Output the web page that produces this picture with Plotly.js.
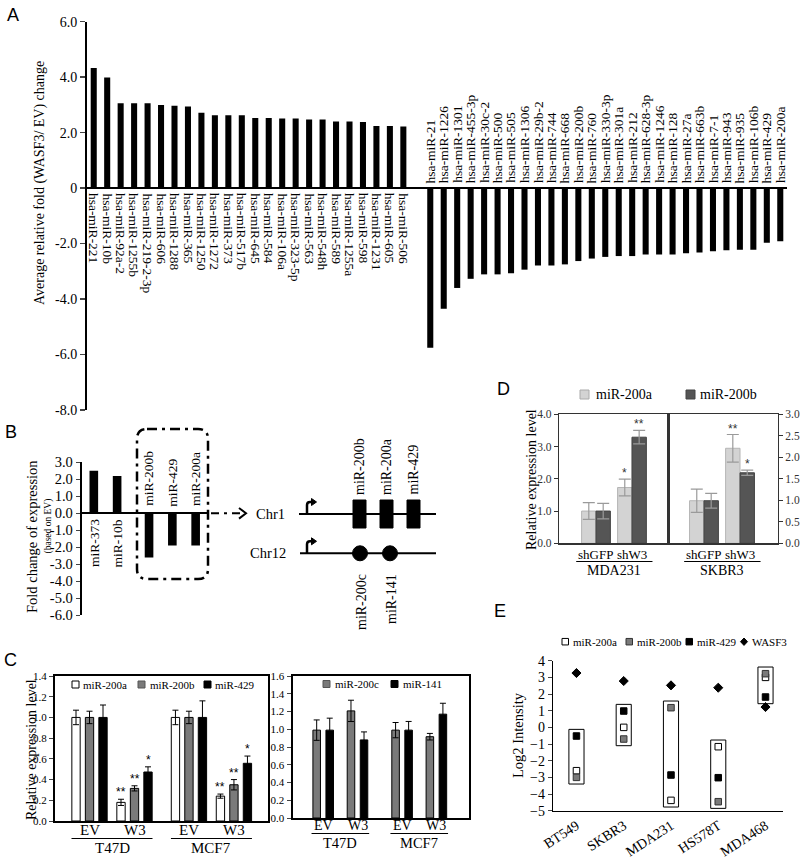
<!DOCTYPE html>
<html><head><meta charset="utf-8">
<script src="https://cdn.plot.ly/plotly-3.0.1.min.js"></script>
<style>body{margin:0;background:#fff}#chart{width:800px;height:860px}</style>
</head><body><div id="chart"></div>
<script>
// ---------------- DATA ----------------
// Panel A
const aUpLabels = ['hsa-miR-221','hsa-miR-10b','hsa-miR-92a-2','hsa-miR-1255b','hsa-miR-219-2-3p','hsa-miR-606','hsa-miR-1288','hsa-miR-365','hsa-miR-1250','hsa-miR-1272','hsa-miR-373','hsa-miR-517b','hsa-miR-645','hsa-miR-584','hsa-miR-106a','hsa-miR-323-5p','hsa-miR-563','hsa-miR-548h','hsa-miR-589','hsa-miR-1255a','hsa-miR-598','hsa-miR-1231','hsa-miR-605','hsa-miR-506'];
const aUpValues = [4.33,3.99,3.06,3.06,3.06,3.0,2.97,2.94,2.72,2.63,2.63,2.63,2.53,2.53,2.51,2.51,2.47,2.47,2.4,2.4,2.38,2.24,2.24,2.22];
const aDownLabels = ['hsa-miR-21','hsa-miR-1226','hsa-miR-1301','hsa-miR-455-3p','hsa-miR-30c-2','hsa-miR-500','hsa-miR-505','hsa-miR-1306','hsa-miR-29b-2','hsa-miR-744','hsa-miR-668','hsa-miR-200b','hsa-miR-760','hsa-miR-330-3p','hsa-miR-301a','hsa-miR-212','hsa-miR-628-3p','hsa-miR-1246','hsa-miR-128','hsa-miR-27a','hsa-miR-663b','hsa-miR-7-1','hsa-miR-943','hsa-miR-935','hsa-miR-106b','hsa-miR-429','hsa-miR-200a'];
const aDownValues = [-5.76,-4.35,-3.6,-3.27,-3.11,-3.11,-3.07,-2.94,-2.79,-2.79,-2.75,-2.63,-2.54,-2.48,-2.45,-2.45,-2.39,-2.39,-2.39,-2.35,-2.32,-2.28,-2.24,-2.22,-2.22,-1.97,-1.92];
const aTickVals = [-8,-6,-4,-2,0,2,4,6];
const aTickText = ['-8.0','-6.0','-4.0','-2.0','0','2.0','4.0','6.0'];

// Panel B
const bLabels = ['miR-373','miR-10b','miR-200b','miR-429','miR-200a'];
const bValues = [2.5,2.2,-2.6,-1.9,-1.9];
const bTickVals = [3,2,1,0,-1,-2,-3,-4,-5,-6];
const bCluster1 = ['miR-200b','miR-200a','miR-429'];
const bCluster12 = ['miR-200c','miR-141'];

// Panel C
const cGroups = ['EV','W3','EV','W3'];
const cCells = ['T47D','MCF7'];
const c200a = [1.0,0.18,1.0,0.24];
const c200aErr = [0.07,0.03,0.07,0.02];
const c200aSig = ['','**','','**'];
const c200b = [1.0,0.315,1.0,0.35];
const c200bErr = [0.06,0.025,0.06,0.05];
const c200bSig = ['','**','','**'];
const c429 = [1.0,0.473,1.0,0.557];
const c429Err = [0.12,0.05,0.16,0.07];
const c429Sig = ['','*','','*'];
const c200c = [0.99,1.207,0.99,0.916];
const c200cErr = [0.115,0.12,0.086,0.037];
const c141 = [0.99,0.88,0.99,1.17];
const c141Err = [0.135,0.09,0.098,0.123];

// Panel D
const dGroups = ['shGFP','shW3'];
const dCells = ['MDA231','SKBR3'];
const dMda200a = [1.0,1.73], dMda200aErr = [0.26,0.26], dMda200aSig = ['','*'];
const dMda200b = [1.0,3.29], dMda200bErr = [0.24,0.21], dMda200bSig = ['','**'];
const dSk200a = [0.99,2.21], dSk200aErr = [0.27,0.32], dSk200aSig = ['','**'];
const dSk200b = [0.99,1.64], dSk200bErr = [0.17,0.06], dSk200bSig = ['','*'];

// Panel E
const eCells = ['BT549','SKBR3','MDA231','HS578T','MDA468'];
const e200a = [-2.6,0.0,-4.38,-1.16,3.0];
const e200b = [-3.0,-0.7,1.18,-4.46,3.22];
const e429 = [-0.52,0.98,-2.86,-3.02,1.82];
const eWASF3 = [3.26,2.78,2.52,2.38,1.22];
const eTickVals = [4,3,2,1,0,-1,-2,-3,-4,-5];

// ---------------- HELPERS ----------------
const SERIF = 'Liberation Serif';
const SANS = 'Liberation Sans';
const W = 800, H = 860;
const px = v => v / W, py = v => 1 - v / H;
const traces = [], annotations = [], shapes = [];
const F = (s, c = '#000', fam = SERIF) => ({family: fam, size: s, color: c});
const txt = (x, y, text, o = {}) => annotations.push(Object.assign({
  xref: 'paper', yref: 'paper', x: px(x), y: py(y), text, showarrow: false,
  xanchor: 'center', yanchor: 'middle', font: F(14)
}, o));
const pline = (x0, y0, x1, y1, o = {}) => shapes.push(Object.assign({
  type: 'line', xref: 'paper', yref: 'paper', x0: px(x0), y0: py(y0), x1: px(x1), y1: py(y1),
  line: {color: '#000', width: 1.5}
}, o));
const prect = (x0, y0, x1, y1, fill, lineColor, lw = 1) => shapes.push({
  type: 'rect', xref: 'paper', yref: 'paper', x0: px(x0), y0: py(y0), x1: px(x1), y1: py(y1),
  fillcolor: fill, line: {color: lineColor, width: lw}
});
const baseAxis = {showgrid: false, zeroline: false, fixedrange: true};
const star = (xref, yref, x, y, text, shift, color) => annotations.push({xref, yref, x, y, text, showarrow: false,
  xanchor: 'center', yanchor: 'bottom', yshift: shift, font: F(12, color, SANS)});

// ---------------- PANEL A ----------------
const aX = aUpLabels.map((_, i) => i).concat(aDownLabels.map((_, i) => aUpLabels.length + 1 + i));
traces.push({type: 'bar', x: aX, y: aUpValues.concat(aDownValues), width: 0.45,
  marker: {color: '#000', line: {width: 0}}, xaxis: 'x', yaxis: 'y', showlegend: false, hoverinfo: 'skip'});
aUpLabels.forEach((t, i) => annotations.push({xref: 'x', yref: 'y', x: i, y: 0, text: t, textangle: 90,
  xanchor: 'center', yanchor: 'top', yshift: -3, showarrow: false, font: F(13.5)}));
aDownLabels.forEach((t, i) => annotations.push({xref: 'x', yref: 'y', x: aUpLabels.length + 1 + i, y: 0, text: t, textangle: -90,
  xanchor: 'center', yanchor: 'bottom', yshift: 3, showarrow: false, font: F(13.5)}));
txt(40, 183, 'Average relative fold (WASF3/ EV) change', {textangle: -90, font: F(14)});
txt(13, 15, 'A', {font: F(18, '#000', SANS)});

// ---------------- PANEL B ----------------
const bX = bLabels.map((_, i) => i + (i >= 2 ? 0.37 : 0));
traces.push({type: 'bar', x: bX, y: bValues, width: 0.37, marker: {color: '#000'},
  xaxis: 'x2', yaxis: 'y2', showlegend: false, hoverinfo: 'skip'});
bLabels.forEach((t, i) => annotations.push({xref: 'x2', yref: 'y2', x: bX[i], y: 0, text: t, textangle: -90,
  xanchor: 'center', yanchor: bValues[i] >= 0 ? 'top' : 'bottom', yshift: bValues[i] >= 0 ? -4 : 5, showarrow: false,
  font: F(13.5)}));
txt(32, 537, 'Fold change of expression', {textangle: -90, font: F(14.5)});
txt(47.5, 526, '(based on EV)', {textangle: -90, font: F(9.5)});
txt(11, 432, 'B', {font: F(18, '#000', SANS)});
(function () {
  const l = 137, r = 208, t = 429, b = 579, rad = 10;
  const P = (x, y) => px(x) + ',' + py(y);
  const path = 'M' + P(l + rad, t) + ' L' + P(r - rad, t) + ' Q' + P(r, t) + ' ' + P(r, t + rad) +
    ' L' + P(r, b - rad) + ' Q' + P(r, b) + ' ' + P(r - rad, b) + ' L' + P(l + rad, b) +
    ' Q' + P(l, b) + ' ' + P(l, b - rad) + ' L' + P(l, t + rad) + ' Q' + P(l, t) + ' ' + P(l + rad, t) + ' Z';
  shapes.push({type: 'path', xref: 'paper', yref: 'paper', path, line: {color: '#000', width: 2.5, dash: '10px,5px,3px,5px'}});
  pline(211, 513.3, 244, 513.3, {line: {color: '#000', width: 2, dash: '8px,5px,3px,5px'}});
  shapes.push({type: 'path', xref: 'paper', yref: 'paper', path: 'M' + P(239, 508) + ' L' + P(246, 513.3) + ' L' + P(239, 518.6),
    line: {color: '#000', width: 2}});
  txt(270, 514, 'Chr1', {font: F(14.5)});
  txt(268, 553, 'Chr12', {font: F(14.5)});
  pline(299, 514, 436, 514, {line: {color: '#000', width: 2}});
  pline(300, 553.3, 436, 553.3, {line: {color: '#000', width: 2}});
  [514, 553.3].forEach(yb => {
    shapes.push({type: 'path', xref: 'paper', yref: 'paper',
      path: 'M' + P(307, yb) + ' L' + P(307, yb - 9) + ' Q' + P(307, yb - 12) + ' ' + P(310, yb - 12) + ' L' + P(312, yb - 12),
      line: {color: '#000', width: 2.5}});
    shapes.push({type: 'path', xref: 'paper', yref: 'paper',
      path: 'M' + P(311.5, yb - 15.5) + ' L' + P(316.5, yb - 12) + ' L' + P(311.5, yb - 8.5) + ' Z',
      fillcolor: '#000', line: {color: '#000', width: 1}});
  });
  const rectX = [359.5, 386.5, 413.5];
  bCluster1.forEach((t, i) => {
    prect(rectX[i] - 6.5, 500, rectX[i] + 6.5, 528, '#000', '#000', 1);
    txt(rectX[i], 497, t, {textangle: -90, yanchor: 'bottom', font: F(14)});
  });
  const circX = [360, 390];
  bCluster12.forEach((t, i) => {
    shapes.push({type: 'circle', xref: 'paper', yref: 'paper', x0: px(circX[i] - 7.5), x1: px(circX[i] + 7.5),
      y0: py(553.3 + 7.5), y1: py(553.3 - 7.5), fillcolor: '#000', line: {color: '#000', width: 1}});
    txt(circX[i] + 1, 572, t, {textangle: -90, yanchor: 'top', font: F(14)});
  });
})();

// ---------------- PANEL C ----------------
const cLX = cGroups.map((_, i) => i + (i >= 2 ? 0.21 : 0));
const cLW = 0.185;
[[c200a, c200aErr, c200aSig, -0.3, '#ffffff'], [c200b, c200bErr, c200bSig, 0, '#7a7a7a'], [c429, c429Err, c429Sig, 0.3, '#000000']]
  .forEach(([v, e, s, off, col]) => {
    traces.push({type: 'bar', x: cLX, y: v, width: cLW, offset: off - cLW / 2, xaxis: 'x3', yaxis: 'y3',
      marker: {color: col, line: {color: '#000', width: 1}}, showlegend: false, hoverinfo: 'skip',
      error_y: {type: 'data', array: e, visible: true, color: '#000', thickness: 1, width: 3}});
    s.forEach((st, i) => { if (st) star('x3', 'y3', cLX[i] + off, v[i] + e[i], st, -2, '#000000'); });
  });
const cRX = cGroups.map((_, i) => i + (i >= 2 ? 0.3 : 0));
const cRW = 0.22;
[[c200c, c200cErr, -0.19, '#7a7a7a'], [c141, c141Err, 0.19, '#000000']].forEach(([v, e, off, col]) => {
  traces.push({type: 'bar', x: cRX, y: v, width: cRW, offset: off - cRW / 2, xaxis: 'x4', yaxis: 'y4',
    marker: {color: col, line: {color: '#000', width: 1}}, showlegend: false, hoverinfo: 'skip',
    error_y: {type: 'data', array: e, visible: true, color: '#000', thickness: 1, width: 3}});
});
cGroups.forEach((g, i) => {
  annotations.push({xref: 'x3', yref: 'paper', x: cLX[i], y: py(830), text: g, showarrow: false, yanchor: 'middle', font: F(15)});
  annotations.push({xref: 'x4', yref: 'paper', x: cRX[i], y: py(825.5), text: g, showarrow: false, yanchor: 'middle', font: F(14)});
});
cCells.forEach((c, k) => {
  const a = cLX[2 * k], b = cLX[2 * k + 1];
  shapes.push({type: 'line', xref: 'x3', yref: 'paper', x0: a - 0.4, x1: b + 0.4, y0: py(838.5), y1: py(838.5), line: {color: '#000', width: 1}});
  annotations.push({xref: 'x3', yref: 'paper', x: (a + b) / 2, y: py(848), text: c, showarrow: false, yanchor: 'middle', font: F(15)});
  const a2 = cRX[2 * k], b2 = cRX[2 * k + 1];
  shapes.push({type: 'line', xref: 'x4', yref: 'paper', x0: a2 - 0.34, x1: b2 + 0.34, y0: py(833.5), y1: py(833.5), line: {color: '#000', width: 1}});
  annotations.push({xref: 'x4', yref: 'paper', x: (a2 + b2) / 2, y: py(843), text: c, showarrow: false, yanchor: 'middle', font: F(14.5)});
});
function legItem(x, yc, size, fill, lineCol, label, fs, gap) {
  prect(x, yc - size / 2, x + size, yc + size / 2, fill, lineCol, 1);
  txt(x + size + gap, yc, label, {xanchor: 'left', font: F(fs)});
}
legItem(72, 684.5, 7, '#ffffff', '#000', 'miR-200a', 11, 2);
legItem(138, 684.5, 7, '#7a7a7a', '#555', 'miR-200b', 11, 2.5);
legItem(204, 684.5, 7, '#000000', '#000', 'miR-429', 11, 2.5);
legItem(323, 684, 7, '#7a7a7a', '#555', 'miR-200c', 11, 2.5);
legItem(391, 684, 7, '#000000', '#000', 'miR-141', 11, 2.5);
txt(10, 660, 'C', {font: F(18, '#000', SANS)});
txt(31, 750, 'Relative expression level', {textangle: -90, font: F(14)});

// ---------------- PANEL D ----------------
const dX = dGroups.map((_, i) => i);
[[dMda200a, dMda200aErr, dMda200aSig, 'x5', 'y5', -0.4, '#d3d3d3', '#b5b5b5'],
 [dMda200b, dMda200bErr, dMda200bSig, 'x5', 'y5', 0, '#555555', '#444444'],
 [dSk200a, dSk200aErr, dSk200aSig, 'x6', 'y6', -0.4, '#d3d3d3', '#b5b5b5'],
 [dSk200b, dSk200bErr, dSk200bSig, 'x6', 'y6', 0, '#555555', '#444444']].forEach(([v, e, s, xa, ya, off, col, lc]) => {
  traces.push({type: 'bar', x: dX, y: v, width: 0.4, offset: off, xaxis: xa, yaxis: ya,
    marker: {color: col, line: {color: lc, width: 1}}, showlegend: false, hoverinfo: 'skip',
    error_y: {type: 'data', array: e, visible: true, color: '#9a9a9a', thickness: 1.2, width: 6}});
  s.forEach((st, i) => { if (st) star(xa, ya, dX[i] + off + 0.2, v[i] + e[i], st, -3, '#333333'); });
});
dCells.forEach((c, k) => {
  const xa = k === 0 ? 'x5' : 'x6';
  dGroups.forEach((g, i) => annotations.push({xref: xa, yref: 'paper', x: dX[i], y: py(554), text: g, showarrow: false,
    yanchor: 'middle', font: F(13)}));
  shapes.push({type: 'line', xref: xa, yref: 'paper', x0: -0.55, x1: 1.57, y0: py(561.5), y1: py(561.5), line: {color: '#000', width: 1}});
  annotations.push({xref: xa, yref: 'paper', x: 0.5, y: py(570), text: c, showarrow: false, yanchor: 'middle', font: F(14)});
});
legItem(580, 394.5, 9, '#d3d3d3', '#aaaaaa', 'miR-200a', 14, 5);
legItem(686, 394.5, 9, '#555555', '#444444', 'miR-200b', 14, 3);
txt(531, 480, 'Relative expression level', {textangle: -90, font: F(14)});
txt(503, 389, 'D', {font: F(18, '#000', SANS)});

// ---------------- PANEL E ----------------
const eX = eCells.map((_, i) => i);
eCells.forEach((c, i) => {
  const vals = [e200a[i], e200b[i], e429[i]];
  shapes.push({type: 'rect', xref: 'x7', yref: 'y7', x0: i - 0.16, x1: i + 0.16,
    y0: Math.max(Math.min(...vals) - 0.4, -4.88), y1: Math.max(...vals) + 0.4,
    line: {color: '#000', width: 1}, fillcolor: 'rgba(0,0,0,0)', layer: 'below'});
});
[[e200a, 'square', '#ffffff', '#000'], [e200b, 'square', '#7a7a7a', '#333'], [e429, 'square', '#000000', '#000'],
 [eWASF3, 'diamond', '#000000', '#000']].forEach(([v, sym, col, lc]) => {
  traces.push({type: 'scatter', mode: 'markers', x: eX, y: v, xaxis: 'x7', yaxis: 'y7', showlegend: false, hoverinfo: 'skip',
    marker: {symbol: sym, size: sym === 'diamond' ? 7 : 6.5, color: col, line: {color: lc, width: 1}}});
});
legItem(562, 641.7, 6.5, '#ffffff', '#000', 'miR-200a', 11, 2);
legItem(626, 641.7, 6.5, '#7a7a7a', '#333', 'miR-200b', 11, 2);
legItem(686, 641.7, 6.5, '#000000', '#000', 'miR-429', 11, 2);
shapes.push({type: 'path', xref: 'paper', yref: 'paper', fillcolor: '#000', line: {color: '#000', width: 1},
  path: 'M' + px(744) + ',' + py(638) + ' L' + px(747.5) + ',' + py(641.7) + ' L' + px(744) + ',' + py(645.4) + ' L' + px(740.5) + ',' + py(641.7) + ' Z'});
txt(750, 641.7, 'WASF3', {xanchor: 'left', font: F(11)});
txt(518, 735, 'Log2 Intensity', {textangle: -90, font: F(14.5)});
txt(500, 611, 'E', {font: F(18, '#000', SANS)});

// ---------------- LAYOUT ----------------
const layout = {
  width: W, height: H, autosize: false, margin: {l: 0, r: 0, t: 0, b: 0},
  font: {family: SERIF, color: '#000'},
  paper_bgcolor: '#fff', plot_bgcolor: 'rgba(0,0,0,0)', showlegend: false, barmode: 'overlay',
  annotations, shapes,
  xaxis: Object.assign({}, baseAxis, {domain: [px(87), px(787)], range: [-0.5, 51.5], showticklabels: false, ticks: '', anchor: 'y'}),
  yaxis: Object.assign({}, baseAxis, {domain: [py(410), py(21.7)], range: [-8, 6], anchor: 'x', tickvals: aTickVals, ticktext: aTickText,
    ticks: 'outside', ticklen: 5, tickwidth: 1.5, showline: true, linewidth: 2, linecolor: '#000', zeroline: true,
    zerolinewidth: 2, zerolinecolor: '#000', tickfont: F(14)}),
  xaxis2: Object.assign({}, baseAxis, {domain: [px(81.7), px(208)], range: [-0.52, 4.9], showticklabels: false, ticks: '', anchor: 'y2'}),
  yaxis2: Object.assign({}, baseAxis, {domain: [py(615.3), py(462.3)], range: [-6, 3], anchor: 'x2', tickvals: bTickVals,
    ticktext: bTickVals.map(v => v.toFixed(1)), ticks: 'outside', ticklen: 4, tickwidth: 1.5, showline: true, linewidth: 2,
    linecolor: '#000', zeroline: true, zerolinewidth: 2, zerolinecolor: '#000', tickfont: F(14.5)}),
  xaxis3: Object.assign({}, baseAxis, {domain: [px(55), px(268)], range: [-0.767, 3.967], anchor: 'y3', showticklabels: false,
    ticks: '', showline: true, mirror: true, linewidth: 2, linecolor: '#000'}),
  yaxis3: Object.assign({}, baseAxis, {domain: [py(821), py(676)], range: [0, 1.4], anchor: 'x3', dtick: 0.2, tickformat: '.1f',
    ticks: 'outside', ticklen: 4, showline: true, mirror: true, linewidth: 2, linecolor: '#000', tickfont: F(11)}),
  xaxis4: Object.assign({}, baseAxis, {domain: [px(292.5), px(468.5)], range: [-0.895, 4.236], anchor: 'y4', showticklabels: false,
    ticks: '', showline: true, mirror: true, linewidth: 2, linecolor: '#000'}),
  yaxis4: Object.assign({}, baseAxis, {domain: [py(818), py(676)], range: [0, 1.6], anchor: 'x4', dtick: 0.2, tickformat: '.1f',
    ticks: 'outside', ticklen: 4, showline: true, mirror: true, linewidth: 2, linecolor: '#000', tickfont: F(11)}),
  xaxis5: Object.assign({}, baseAxis, {domain: [px(559.3), px(668.3)], range: [-1.02, 2.01], anchor: 'y5', showticklabels: false,
    ticks: '', showline: true, mirror: true, linewidth: 1.5, linecolor: '#333'}),
  yaxis5: Object.assign({}, baseAxis, {domain: [py(543.3), py(414.3)], range: [0, 4], anchor: 'x5', dtick: 1, tickformat: '.1f',
    ticks: 'outside', ticklen: 4, tickcolor: '#333', showline: true, mirror: true, linewidth: 1.5, linecolor: '#333', tickfont: F(11.5, '#333')}),
  xaxis6: Object.assign({}, baseAxis, {domain: [px(668.3), px(777.5)], range: [-0.99, 2.04], anchor: 'y6', showticklabels: false,
    ticks: '', showline: true, mirror: true, linewidth: 1.5, linecolor: '#333'}),
  yaxis6: Object.assign({}, baseAxis, {domain: [py(543.3), py(414.3)], range: [0, 3], anchor: 'x6', side: 'right', dtick: 0.5, tickformat: '.1f',
    ticks: 'outside', ticklen: 4, tickcolor: '#333', showline: true, mirror: true, linewidth: 1.5, linecolor: '#333', tickfont: F(11.5, '#333')}),
  xaxis7: Object.assign({}, baseAxis, {domain: [px(553.3), px(783)], range: [-0.49, 4.37], anchor: 'y7', tickvals: eX, ticktext: eCells,
    tickangle: -33, ticks: '', showline: true, linewidth: 1.5, linecolor: '#000', tickfont: F(14)}),
  yaxis7: Object.assign({}, baseAxis, {domain: [py(810.7), py(660.7)], range: [-5, 4], anchor: 'x7', tickvals: eTickVals,
    ticks: 'outside', ticklen: 4, showline: true, linewidth: 1.5, linecolor: '#000', tickfont: F(14)})
};
Plotly.newPlot('chart', traces, layout, {staticPlot: true, displayModeBar: false});
</script></body></html>
